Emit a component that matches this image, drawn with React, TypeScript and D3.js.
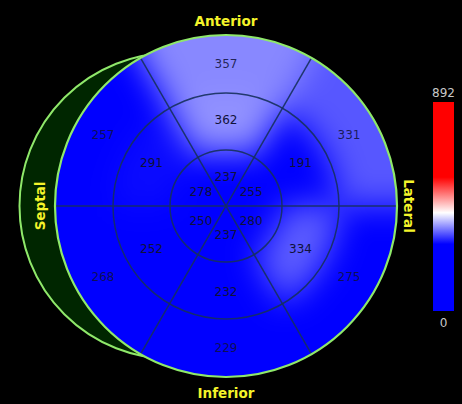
import React from 'react';
import * as d3 from 'd3';

// Segment values, clockwise from the anterior (top) segment
const outerValues = [357, 331, 275, 229, 268, 257];
const midValues = [362, 191, 334, 232, 252, 291];
const innerValues = [237, 255, 280, 237, 250, 278];
const scaleMin = 0;
const scaleMax = 892;
const colorStops = [0, 0.32, 0.47, 0.64, 1];
const colorRange = ['#0000ff', '#0000ff', '#ffffff', '#ff0000', '#ff0000'];
const wallLabels = ['Anterior', 'Lateral', 'Inferior', 'Septal'];

const W = 462;
const H = 404;
const cx = 226;
const cy = 206;
const R = 171;
const rMid = 113;
const rIn = 56;

export default function App() {
  const color = d3
    .scaleLinear<string>()
    .domain(colorStops.map((f) => scaleMin + f * (scaleMax - scaleMin)))
    .range(colorRange)
    .clamp(true);

  const step = (2 * Math.PI) / 6;
  const angle = d3.scaleLinear().domain([0, 6]).range([-step / 2, 2 * Math.PI - step / 2]);

  const rings = [
    { values: innerValues, r0: 0, r1: rIn, lr: 29 },
    { values: midValues, r0: rIn, r1: rMid, lr: 86 },
    { values: outerValues, r0: rMid, r1: R + 40, lr: 142 },
  ];
  const arc = d3.arc<any>();

  const barX = 433;
  const barW = 21;
  const barTop = 102;
  const barBot = 311;
  const barY = d3.scaleLinear().domain([scaleMin, scaleMax]).range([barBot, barTop]);

  // diameters through the centre: horizontal, and the two at ±30° from vertical
  const diameters = [angle(2), angle(0), angle(1)];
  const lineColor = '#16305e';
  const yellow = '#f4f42a';
  const font = "'DejaVu Sans', Verdana, sans-serif";

  return (
    <svg
      width={W}
      height={H}
      style={{ position: 'fixed', left: 0, top: 0, background: '#000' }}
      fontFamily={font}
    >
      <defs>
        <clipPath id="mainClip">
          <circle cx={cx} cy={cy} r={R} />
        </clipPath>
        <filter
          id="soft"
          filterUnits="userSpaceOnUse"
          x={0}
          y={0}
          width={W}
          height={H}
          colorInterpolationFilters="sRGB"
        >
          <feGaussianBlur stdDeviation={16} />
        </filter>
        <linearGradient id="bar" x1="0" y1="1" x2="0" y2="0">
          {colorStops.map((f, i) => (
            <stop key={i} offset={`${f * 100}%`} stopColor={colorRange[i]} />
          ))}
        </linearGradient>
      </defs>
      <rect width={W} height={H} fill="#000" />

      {/* septal crescent */}
      <circle cx={172.5} cy={cy} r={153} fill="#002600" stroke="#8fe86a" strokeWidth={2} />

      <g clipPath="url(#mainClip)">
        <circle cx={cx} cy={cy} r={R} fill="#0000ff" />
        <g filter="url(#soft)">
          <g transform={`translate(${cx},${cy})`}>
            {rings.map((ring, ri) =>
              ring.values.map((v, i) => (
                <path
                  key={`${ri}-${i}`}
                  d={arc({
                    innerRadius: ring.r0,
                    outerRadius: ring.r1,
                    startAngle: angle(i),
                    endAngle: angle(i + 1),
                  }) as string}
                  fill={color(v)}
                  stroke={color(v)}
                  strokeWidth={1}
                />
              ))
            )}
          </g>
        </g>
        <g transform={`translate(${cx},${cy})`} stroke={lineColor} strokeWidth={1.5} fill="none" strokeOpacity={0.9}>
          <circle r={rIn} />
          <circle r={rMid} />
          {diameters.map((a, i) => (
            <line
              key={i}
              x1={-R * Math.sin(a)}
              y1={R * Math.cos(a)}
              x2={R * Math.sin(a)}
              y2={-R * Math.cos(a)}
            />
          ))}
        </g>
      </g>
      <circle cx={cx} cy={cy} r={R} fill="none" stroke="#8fe86a" strokeWidth={2.2} />

      <g transform={`translate(${cx},${cy})`} fontSize={12} fill="#10123a" textAnchor="middle">
        {rings.map((ring, ri) =>
          ring.values.map((v, i) => {
            const a = angle(i) + step / 2;
            return (
              <text
                key={`${ri}-${i}`}
                x={ring.lr * Math.sin(a)}
                y={-ring.lr * Math.cos(a)}
                dy="0.36em"
                fillOpacity={ri === 2 ? 0.85 : 1}
              >
                {v}
              </text>
            );
          })
        )}
      </g>

      <g fill={yellow} fontWeight="bold" fontSize={13.5} textAnchor="middle">
        <text x={cx} y={21} dy="0.36em">{wallLabels[0]}</text>
        <text x={cx} y={393} dy="0.36em">{wallLabels[2]}</text>
        <text transform={`translate(409,${cy}) rotate(90)`} dy="0.36em">{wallLabels[1]}</text>
        <text transform={`translate(40,${cy}) rotate(-90)`} dy="0.36em">{wallLabels[3]}</text>
      </g>

      <rect x={barX} y={barY(scaleMax)} width={barW} height={barY(scaleMin) - barY(scaleMax)} fill="url(#bar)" />
      <g fill="#c8c8c8" fontSize={12} textAnchor="middle">
        <text x={barX + barW / 2} y={barY(scaleMax) - 5}>{scaleMax}</text>
        <text x={barX + barW / 2} y={barY(scaleMin) + 16}>{scaleMin}</text>
      </g>
    </svg>
  );
}
